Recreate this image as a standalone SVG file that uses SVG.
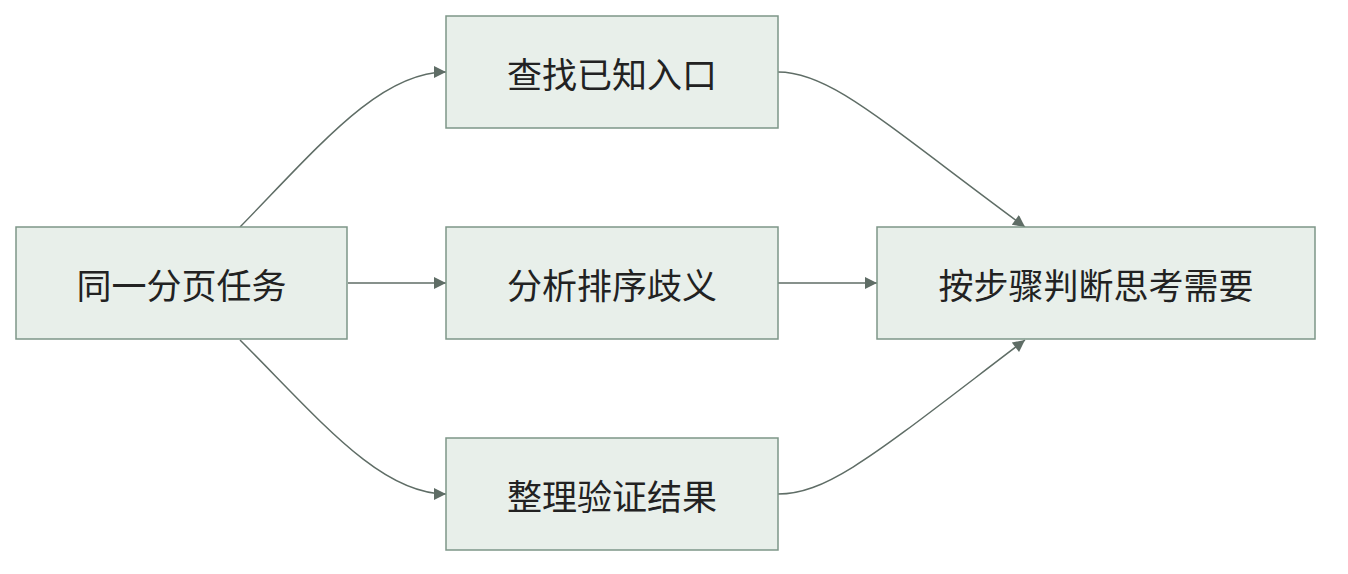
<svg xmlns="http://www.w3.org/2000/svg" width="1348" height="574" viewBox="0 0 1348 574">
<defs>
<marker id="a" viewBox="0 0 10 10" refX="10" refY="5" markerWidth="15" markerHeight="12" markerUnits="userSpaceOnUse" orient="auto"><path d="M0,0 L10,5 L0,10 z" fill="#5f6d66"/></marker>
<style>
.n rect{fill:#e8efea;stroke:#7d9688;stroke-width:1.5}
.n text{font-family:"Noto Sans CJK SC",sans-serif;font-size:35px;fill:#222;text-anchor:middle;dominant-baseline:central}
#e path{fill:none;stroke:#5f6d66;stroke-width:1.5;marker-end:url(#a)}
</style>
</defs>
<rect width="1348" height="574" fill="#fff"/>
<g id="e">
<path d="M240,227 C320,145 380,72 446,72"/>
<path d="M348,283 L446,283"/>
<path d="M240,340 C320,420 380,494 446,494"/>
<path d="M778,72 C830,72 880,120 1025,227"/>
<path d="M778,283 L877,283"/>
<path d="M778,494 C830,494 880,450 1025,340"/>
</g>
<g id="n1" class="n"><rect x="16" y="227" width="331" height="112"/><text x="181.5" y="283">同一分页任务</text></g>
<g id="n2" class="n"><rect x="446" y="16" width="332" height="112"/><text x="612" y="72">查找已知入口</text></g>
<g id="n3" class="n"><rect x="446" y="227" width="332" height="112"/><text x="612" y="283">分析排序歧义</text></g>
<g id="n4" class="n"><rect x="446" y="438" width="332" height="112"/><text x="612" y="494">整理验证结果</text></g>
<g id="n5" class="n"><rect x="877" y="227" width="438" height="112"/><text x="1096" y="283">按步骤判断思考需要</text></g>
</svg>
